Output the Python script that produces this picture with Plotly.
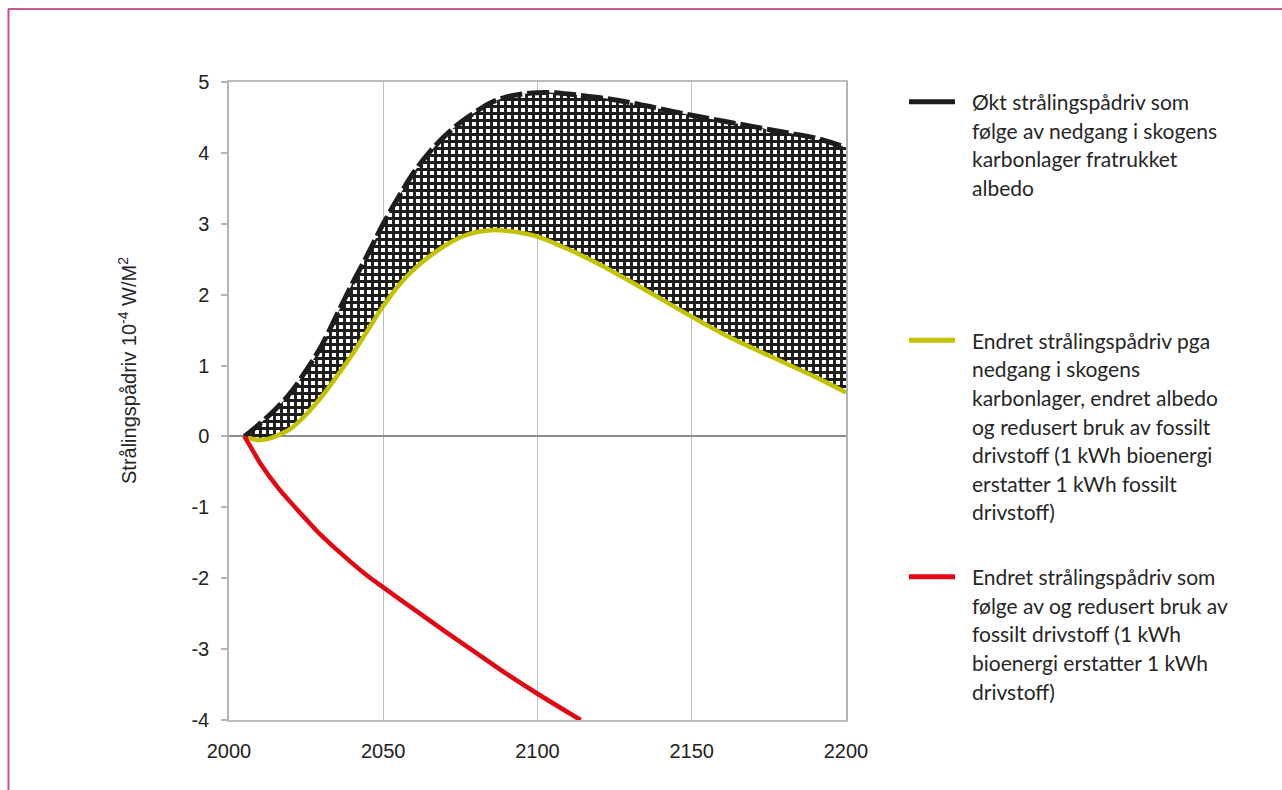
import plotly.graph_objects as go

# ---------------- data ----------------
years_upper = [2005, 2010, 2015, 2020, 2025, 2030, 2035, 2040, 2045, 2050, 2055, 2060,
               2065, 2070, 2075, 2080, 2085, 2090, 2095, 2100, 2105, 2110, 2120, 2130,
               2140, 2150, 2160, 2170, 2180, 2190, 2200]
upper_vals = [0.0, 0.18, 0.38, 0.62, 0.93, 1.28, 1.72, 2.16, 2.57, 3.0, 3.38, 3.73,
              4.01, 4.24, 4.43, 4.58, 4.71, 4.79, 4.83, 4.85, 4.85, 4.83, 4.78, 4.71,
              4.62, 4.53, 4.45, 4.37, 4.29, 4.21, 4.08]

years_net = [2005, 2008, 2010, 2013, 2015, 2020, 2025, 2030, 2035, 2040, 2045, 2050,
             2055, 2060, 2065, 2070, 2075, 2080, 2085, 2090, 2095, 2100, 2110, 2120,
             2130, 2140, 2150, 2160, 2170, 2180, 2190, 2200]
net_vals = [0.0, -0.04, -0.05, -0.03, 0.0, 0.11, 0.31, 0.56, 0.85, 1.16, 1.50, 1.84,
            2.13, 2.36, 2.54, 2.69, 2.81, 2.88, 2.91, 2.90, 2.87, 2.82, 2.64, 2.43,
            2.19, 1.94, 1.69, 1.45, 1.24, 1.04, 0.84, 0.62]

years_fossil = [2005, 2008, 2010, 2016, 2020, 2025, 2030, 2035, 2040, 2045, 2050, 2060,
                2070, 2080, 2090, 2100, 2114]
fossil_vals = [0.0, -0.22, -0.37, -0.73, -0.93, -1.17, -1.40, -1.60, -1.79, -1.97, -2.13,
               -2.44, -2.75, -3.05, -3.35, -3.63, -4.0]

legend_texts = [
    ["Økt strålingspådriv som", "følge av nedgang i skogens", "karbonlager fratrukket", "albedo"],
    ["Endret strålingspådriv pga", "nedgang i skogens", "karbonlager, endret albedo",
     "og redusert bruk av fossilt", "drivstoff (1 kWh bioenergi", "erstatter 1 kWh fossilt",
     "drivstoff)"],
    ["Endret strålingspådriv som", "følge av og redusert bruk av", "fossilt drivstoff (1 kWh",
     "bioenergi erstatter 1 kWh", "drivstoff)"],
]
x_ticks = [2000, 2050, 2100, 2150, 2200]
y_ticks = [5, 4, 3, 2, 1, 0, -1, -2, -3, -4]
y_title = "Strålingspådriv 10<sup>-4</sup> W/M<sup>2</sup>"

BLACK = "#1d1d1b"
YELLOW = "#c3c200"
RED = "#e30613"

# ---------------- layout geometry (pixels) ----------------
W, H = 1282, 790
L, R, T, B = 229, 846, 82, 720
pw, ph = R - L, B - T


def px(xp):
    return (xp - L) / pw


def py(yp):
    return (B - yp) / ph


fig = go.Figure()

# base for fill (lower curve, invisible)
fig.add_trace(go.Scatter(x=years_net, y=net_vals, mode="lines", line=dict(width=0, shape="spline"),
                         hoverinfo="skip", showlegend=False))
# patterned fill up to upper curve
fig.add_trace(go.Scatter(x=years_upper, y=upper_vals, mode="lines", fill="tonexty",
                         line=dict(width=0, shape="spline"),
                         fillpattern=dict(shape="+", size=7, solidity=0.66,
                                          fgcolor=BLACK, bgcolor="white", fgopacity=1),
                         fillcolor="white", hoverinfo="skip", showlegend=False))
# visible lines
fig.add_trace(go.Scatter(x=years_net, y=net_vals, mode="lines", name=" ".join(legend_texts[1]),
                         line=dict(color=YELLOW, width=4.5, shape="spline"), showlegend=False))
fig.add_trace(go.Scatter(x=years_upper, y=upper_vals, mode="lines", name=" ".join(legend_texts[0]),
                         line=dict(color=BLACK, width=5, dash="22px,5px", shape="spline"),
                         showlegend=False))
fig.add_trace(go.Scatter(x=years_fossil, y=fossil_vals, mode="lines", name=" ".join(legend_texts[2]),
                         line=dict(color=RED, width=4.5, shape="spline"), showlegend=False))

# legend (manual, to match uneven spacing)
legend_colors = [BLACK, YELLOW, RED]
legend_top = [101.7, 340.3, 576.7]
line_gap = 28.6
annotations = []
shapes = []
for texts, col, y0 in zip(legend_texts, legend_colors, legend_top):
    shapes.append(dict(type="line", xref="paper", yref="paper", x0=px(909), x1=px(955),
                       y0=py(y0), y1=py(y0), line=dict(color=col, width=5)))
    for i, t in enumerate(texts):
        annotations.append(dict(xref="paper", yref="paper", x=px(970), y=py(y0 + i * line_gap),
                                xanchor="left", yanchor="middle", text=t, showarrow=False,
                                font=dict(family="Lato", size=21, color="#262626")))

# y-axis title
annotations.append(dict(xref="paper", yref="paper", x=px(127), y=py(370), text=y_title,
                        textangle=-90, showarrow=False, xanchor="center", yanchor="middle",
                        font=dict(family="Liberation Sans", size=20, color="#262626")))

# outer frame (top and left edges visible)
shapes.append(dict(type="line", xref="paper", yref="paper", x0=px(8), x1=px(1300),
                   y0=py(9), y1=py(9), line=dict(color="#b02a66", width=1.5)))
shapes.append(dict(type="line", xref="paper", yref="paper", x0=px(8.5), x1=px(8.5),
                   y0=py(9), y1=py(800), line=dict(color="#cf4b91", width=2)))

fig.update_layout(
    width=W, height=H,
    margin=dict(l=L, r=W - R, t=T, b=H - B, pad=0),
    paper_bgcolor="white", plot_bgcolor="white",
    showlegend=False,
    annotations=annotations, shapes=shapes,
    xaxis=dict(range=[2000, 2200], tickvals=x_ticks, ticktext=[str(v) for v in x_ticks],
               showgrid=True, gridcolor="#bdbdbd", gridwidth=1,
               showline=True, linecolor="#bdbdbd", linewidth=1.5, mirror=True,
               ticks="", zeroline=False, ticklabelstandoff=12,
               tickfont=dict(family="Liberation Sans", size=20, color="#222")),
    yaxis=dict(range=[-4, 5], tickvals=y_ticks, ticktext=[str(v) for v in y_ticks],
               showgrid=False, showline=True, linecolor="#b3b3b3", linewidth=1.5, mirror=True,
               ticks="outside", ticklen=6, tickcolor="#b3b3b3", tickwidth=1.5,
               zeroline=True, zerolinecolor="#8c8c8c", zerolinewidth=2,
               ticklabelstandoff=8,
               tickfont=dict(family="Liberation Sans", size=20, color="#222")),
)

fig.write_html("out.html", config={"displayModeBar": False},
               post_script="document.body.style.margin='0';document.body.style.padding='0';"
                           "document.body.style.overflow='hidden';")
